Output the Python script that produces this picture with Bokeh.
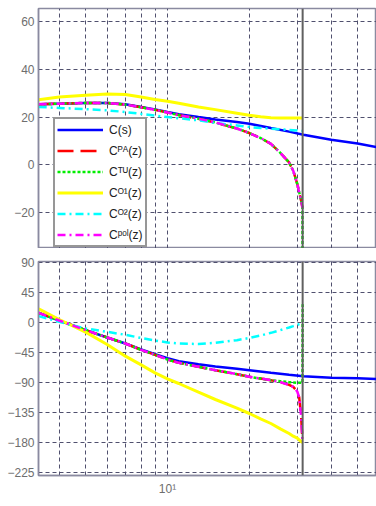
from bokeh.plotting import figure
from bokeh.layouts import column
from bokeh.models import Range1d, FixedTicker, Span, CustomJSTickFormatter
from bokeh.embed import file_html
from bokeh.resources import INLINE

# ---------------- data ----------------
w_nyq = 31.4  # pi/T marker

grid_x = [4, 5, 6, 7, 8, 9, 10, 20, 30, 40, 50]
x_ticks = [10]
mag_ticks = [-20, 0, 20, 40, 60]
ph_ticks = [-225, -180, -135, -90, -45, 0, 45, 90]

# continuous controller C(s)
w_cs = [3.36, 4, 5, 6, 7, 8, 9, 10, 11, 13, 15, 18, 20, 24, 28, 31.6, 40, 50, 60]
mag_cs = [25.3, 25.6, 25.9, 25.9, 25.3, 24.2, 23.2, 22.1, 21.2, 20.0, 19.0, 17.9, 17.2, 15.4, 13.9, 12.6, 10.5, 8.9, 7.2]
ph_cs = [15, 3.5, -11, -22, -31, -40, -47, -53, -57.5, -62, -65.5, -69, -71, -75, -78, -80, -82.4, -83.3, -84.4]

# discrete approximations
w_d = [3.36, 4, 5, 6, 7, 8, 9, 10, 11, 13, 15, 18, 20, 22, 24, 26, 28, 29, 30, 30.5, 31, 31.35]

mag_pa = [25.3, 25.6, 25.9, 25.9, 25.2, 24.1, 23.0, 21.9, 20.8, 19.3, 17.7, 15.2, 13.3, 11.2, 8.8, 5.0, 1.0, -2.5, -8.0, -11.5, -15.0, -18.0]
ph_pa = [15, 3.5, -11, -22, -31, -40.5, -48, -55, -60, -66, -71, -77, -81, -83.5, -86, -89, -93, -96, -103, -112, -140, -177]

w_tu = [3.36, 4, 5, 6, 7, 8, 9, 10, 11, 13, 15, 18, 20, 22, 24, 26, 28, 29, 30, 30.5, 31, 31.35, 31.4]
mag_tu = [25.3, 25.6, 25.9, 25.9, 25.2, 24.1, 23.0, 21.9, 20.8, 19.3, 17.7, 15.2, 13.3, 11.2, 8.8, 5.0, 1.0, -2.5, -8.0, -11.5, -15.0, -18.0, -100.0]
ph_tu = [15, 3.5, -11, -22, -31, -40.5, -48, -55, -60, -66, -71, -77, -81, -83.5, -86, -87.5, -89, -89.5, -90, -90, -90, -90, 28]

mag_o1 = [27.2, 28.4, 29.1, 29.6, 29.4, 28.4, 27.3, 26.6, 25.8, 24.2, 23.1, 21.6, 20.7, 20.1, 19.7, 19.6, 19.6, 19.6, 19.6, 19.6, 19.6, 19.6]
ph_o1 = [21, 5, -14, -32.5, -50, -63, -75, -84, -91, -104, -115, -128, -136, -144, -151, -159, -166, -170, -173, -175.5, -178, -179.5]

mag_o2 = [24.2, 23.8, 23.3, 22.8, 22.1, 21.3, 20.6, 20.0, 19.5, 18.6, 17.5, 16.5, 15.8, 15.4, 15.1, 14.9, 14.6, 14.5, 14.4, 14.3, 14.2, 14.2]
ph_o2 = [10, 1.5, -8.5, -13.5, -18, -22.7, -26.5, -29.4, -31, -31.8, -30, -26, -22.7, -19, -15, -11, -7, -5, -3, -2, -1.2, -1]

mag_pol = [25.3, 25.6, 25.9, 25.9, 25.2, 24.1, 23.0, 21.9, 20.8, 19.3, 17.7, 15.2, 13.3, 11.2, 8.8, 5.0, 1.0, -2.5, -8.0, -11.5, -15.0, -18.0]
ph_pol = [15, 3.5, -11, -22, -31, -40.5, -48, -55, -60, -66, -71, -77, -81, -83.5, -86, -89, -93, -96, -103, -112, -140, -177]

labels = ["C(s)", "C\u1d3e\u1d2c(z)", "C\u1d40\u1d41(z)", "C\u1d3c\u00b9(z)", "C\u1d3c\u00b2(z)", "C\u1d56\u1d52\u02e1(z)"]

# ---------------- styling ----------------
FRAME = "#8a8aa0"
GRID = "#50506e"
TICK_COLOR = "#6e6e6e"
FONT = "Liberation Sans"

series = [
    # (w, mag, phase, color, dash, width)
    (w_cs, mag_cs, ph_cs, "#0000ff", "solid", 2.5),
    (w_d, mag_pa, ph_pa, "#ff0000", "16 7", 2.5),
    (w_tu, mag_tu, ph_tu, "#00ee00", "3 2", 2.5),
    (w_d, mag_o1, ph_o1, "#ffff00", "solid", 3),
    (w_d, mag_o2, ph_o2, "#00ffff", "8 4 2 4", 2.5),
    (w_d, mag_pol, ph_pol, "#ff00ff", "8 4 2 4", 2.5),
]


def make_fig(height, yr, yticks, b_top, b_bottom):
    p = figure(width=376, height=height, x_axis_type="log",
               x_range=Range1d(3.355, 58.68), y_range=Range1d(*yr),
               output_backend="svg", toolbar_location=None,
               min_border_left=38, min_border_right=0,
               min_border_top=b_top, min_border_bottom=b_bottom)
    p.background_fill_color = "white"
    p.border_fill_color = "white"
    p.outline_line_color = FRAME
    p.outline_line_width = 1.5
    p.xgrid.ticker = FixedTicker(ticks=grid_x)
    p.ygrid.ticker = FixedTicker(ticks=yticks)
    for g in (p.xgrid, p.ygrid):
        g.grid_line_color = GRID
        g.grid_line_dash = "4 3"
        g.grid_line_width = 1
    ax = p.yaxis[0]
    ax.ticker = FixedTicker(ticks=yticks)
    ax.major_tick_in = 0
    ax.major_tick_out = 0
    ax.minor_tick_in = 0
    ax.minor_tick_out = 0
    ax.axis_line_color = FRAME
    ax.axis_line_width = 1.5
    ax.major_label_standoff = 4
    ax.major_label_text_font = FONT
    ax.major_label_text_font_size = "12px"
    ax.major_label_text_color = TICK_COLOR
    return p


top = make_fig(248, (-35, 65.4), mag_ticks, 8, 0)
top.xaxis.visible = False
bot = make_fig(250, (-229, 92), ph_ticks, 13, 22)

xa = bot.xaxis[0]
xa.ticker = FixedTicker(ticks=x_ticks)
xa.formatter = CustomJSTickFormatter(code="return '10\u00b9';")
xa.major_tick_in = 0
xa.major_tick_out = 0
xa.minor_tick_in = 0
xa.minor_tick_out = 0
xa.axis_line_color = FRAME
xa.axis_line_width = 1.5
xa.major_label_standoff = 6
xa.major_label_text_font = FONT
xa.major_label_text_font_size = "12px"
xa.major_label_text_color = TICK_COLOR

for (w, m, ph, c, d, lw), lab in zip(series, labels):
    top.line(w, m, line_color=c, line_dash=d, line_width=lw, legend_label=lab)
    bot.line(w, ph, line_color=c, line_dash=d, line_width=lw)

for p in (top, bot):
    p.add_layout(Span(location=w_nyq, dimension="height", line_color="#606060", line_width=2))

lg = top.legend[0]
lg.location = (15, 1)
lg.margin = 0
lg.padding = 2
lg.spacing = 4
lg.label_height = 17
lg.glyph_height = 17
lg.glyph_width = 46
lg.label_standoff = 6
lg.label_text_font = FONT
lg.label_text_font_size = "12px"
lg.label_text_color = "#202020"
lg.border_line_color = "#303030"
lg.border_line_width = 2
lg.background_fill_color = "white"
lg.background_fill_alpha = 1

layout = column(top, bot, spacing=0)
open("out.html", "w").write(file_html(layout, INLINE))
